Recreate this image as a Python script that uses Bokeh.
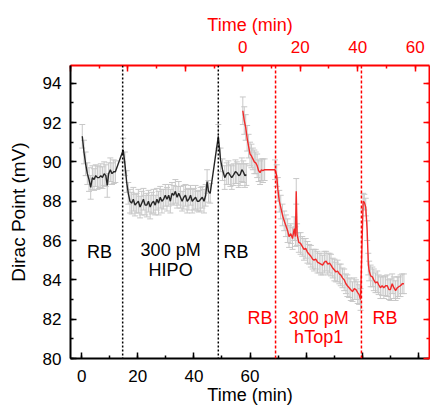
from bokeh.plotting import figure
from bokeh.models import (Range1d, LinearAxis, SingleIntervalTicker, ColumnDataSource,
                          Whisker, TeeHead, Span, Label, CustomJSTickFormatter)
from bokeh.embed import file_html
from bokeh.resources import INLINE

# ---------------- data ----------------
# black series (bottom time axis, min) : HIPO experiment
black_t = [0.2, 0.8, 1.4, 2.0, 2.6, 3.2, 3.8, 4.4, 5.0, 5.6, 6.2, 6.8, 7.4, 8.0, 8.6, 9.1, 9.6, 10.2,
           10.8, 11.4, 12.0, 14.8,
           15.4, 16.0, 16.6, 17.2, 17.8, 18.4, 19.0, 19.6, 20.2, 20.8, 21.4, 22.0, 22.6, 23.2, 23.8,
           24.4, 25.0, 25.6, 26.2, 26.8, 27.4, 28.0, 28.6, 29.2, 29.8, 30.4, 31.0, 31.6, 32.2, 32.8,
           33.4, 34.0, 34.6, 35.2, 35.8, 36.4, 37.0, 37.6, 38.2, 38.8, 39.4, 40.0, 40.6, 41.2, 41.8,
           42.4, 43.0, 43.6, 44.2, 44.7, 45.2, 45.8, 48.7,
           49.5, 50.2, 51.0, 51.7, 52.3, 53.0, 53.5, 54.2, 54.8, 55.3, 56.0, 56.5, 57.1, 57.6, 58.2, 58.7]
black_v = [91.3, 90.5, 89.9, 89.4, 89.1, 88.7, 89.2, 89.1, 89.3, 89.2, 89.2, 89.3, 89.2, 89.4, 89.3,
           88.8, 89.4, 89.6, 89.4, 89.5, 89.5, 90.6,
           89.9, 89.0, 88.4, 88.0, 87.9, 88.1, 87.8, 87.9, 88.0, 87.7, 87.9, 88.1, 87.8, 87.8, 88.0,
           87.7, 87.9, 88.0, 87.8, 88.1, 87.9, 88.2, 88.0, 88.1, 88.3, 88.1, 88.3, 88.0, 88.4, 88.3,
           88.5, 88.2, 88.4, 88.2, 88.0, 88.2, 88.3, 88.0, 88.1, 88.3, 88.0, 88.1, 88.2, 88.0, 88.0,
           88.1, 88.2, 88.0, 88.3, 89.0, 88.5, 88.4, 91.3,
           90.1, 89.6, 89.2, 89.4, 89.45, 89.3, 89.2, 89.35, 89.5, 89.45, 89.3, 89.35, 89.6, 89.5,
           89.3, 89.35]
black_err = [0.6, 0.6, 0.6, 0.55, 0.6, 0.6, 0.6, 0.55, 0.55, 0.6, 0.55, 0.6, 0.55, 0.6, 0.55, 0.6,
             0.55, 0.6, 0.55, 0.6, 0.55, 0.6,
             0.6, 0.55, 0.55, 0.6, 0.55, 0.6, 0.55, 0.5, 0.6, 0.55, 0.6, 0.55, 0.5, 0.6, 0.55,
             0.6, 0.55, 0.6, 0.5, 0.55, 0.6, 0.55, 0.6, 0.5, 0.55, 0.6, 0.55, 0.6, 0.55, 0.5,
             0.6, 0.55, 0.6, 0.55, 0.5, 0.6, 0.55, 0.6, 0.55, 0.5, 0.6, 0.55, 0.6, 0.5, 0.55,
             0.6, 0.55, 0.6, 0.55, 0.6, 0.55, 0.5, 0.6,
             0.6, 0.55, 0.6, 0.55, 0.6, 0.55, 0.6, 0.55, 0.6, 0.55, 0.6, 0.55, 0.6, 0.55, 0.6, 0.55]

# red series (top time axis, min) : hTop1 experiment
red_t = [0.0, 0.5, 1.0, 1.5, 2.0, 2.5, 3.0, 3.5, 4.0, 4.5, 5.0, 5.5, 6.0, 6.5, 7.0, 7.6, 11.2,
         11.8, 12.2, 12.7, 13.2, 13.8, 14.4, 15.0, 15.6, 16.1, 16.7, 17.3, 17.9, 18.3, 18.6, 18.9,
         19.5, 20.1, 20.7, 21.3, 21.9, 22.5, 23.1, 23.7, 24.3, 24.8, 25.4, 26.0, 26.6, 27.2, 27.8,
         28.4, 29.0, 29.6, 30.2, 30.7, 31.3, 31.9, 32.4, 33.0, 33.6, 34.1, 34.7, 35.3, 35.9, 36.4,
         37.0, 37.6, 38.2, 38.8, 39.4, 40.0, 40.5, 41.0, 41.9, 42.3, 42.8, 43.3, 43.7, 44.0, 44.5,
         45.1, 45.6, 46.2, 46.8, 47.3, 47.9, 48.5, 49.1, 49.7, 50.3, 50.9, 51.4, 52.0, 52.6, 53.2,
         53.8, 54.3, 54.9, 55.5, 56.1]
red_v = [92.6, 92.1, 91.75, 91.2, 90.8, 90.4, 90.3, 90.15, 90.0, 89.95, 89.8, 89.55, 89.45, 89.6,
         89.55, 89.6, 89.6,
         89.3, 88.6, 88.0, 87.7, 87.3, 87.0, 86.75, 86.5, 86.2, 86.35, 86.1, 86.6, 86.2, 88.5, 86.3,
         85.9, 85.85, 85.7, 85.55, 85.6, 85.4, 85.3, 85.2, 85.05, 85.0, 85.05, 84.9, 84.85, 84.8,
         84.75, 84.9, 84.95, 84.8, 84.85, 84.75, 84.6, 84.5, 84.4, 84.45, 84.3, 84.25, 84.1, 84.0,
         83.8, 83.7, 83.6, 83.5, 83.4, 83.55, 83.5, 83.35, 83.25, 83.0, 88.0, 87.95, 87.7, 86.5,
         84.8, 84.45, 84.2, 84.15, 84.0, 83.85, 83.9, 83.75, 83.6, 83.7, 83.6, 83.7, 83.7, 83.5,
         83.5, 83.8, 83.6, 83.45, 83.6, 83.65, 83.7, 83.8, 83.8]
red_err = [0.7, 0.7, 0.65, 0.65, 0.6, 0.6, 0.6, 0.55, 0.6, 0.55, 0.6, 0.55, 0.6, 0.55, 0.6, 0.55, 0.5,
           0.55, 0.6, 0.55, 0.6, 0.55, 0.5, 0.55, 0.6, 0.55, 0.5, 0.55, 0.6, 0.5, 0.65, 0.55,
           0.5, 0.55, 0.5, 0.55, 0.5, 0.55, 0.5, 0.55, 0.5, 0.55, 0.5, 0.55, 0.5, 0.55,
           0.5, 0.55, 0.5, 0.55, 0.5, 0.55, 0.5, 0.55, 0.5, 0.55, 0.5, 0.55, 0.5, 0.55,
           0.5, 0.55, 0.5, 0.55, 0.5, 0.55, 0.5, 0.55, 0.5, 0.55, 0.4, 0.4, 0.45, 0.5,
           0.55, 0.5, 0.55, 0.5, 0.55, 0.5, 0.55, 0.5, 0.55, 0.5, 0.55, 0.5, 0.55, 0.5,
           0.55, 0.5, 0.55, 0.5, 0.55, 0.5, 0.55, 0.5, 0.5]

black_events = [14.6, 48.7]     # bottom axis (min)
red_events = [11.4, 41.3]       # top axis (min)

x_bottom_labels_hidden = [80, 100, 120]
x_top_labels_hidden = [-60, -40, -20]

FONT = "Liberation Sans"
RED = "#ff0000"

# ---------------- figure ----------------
p = figure(width=430, height=408, output_backend="svg", toolbar_location=None,
           x_range=Range1d(-4, 124), y_range=Range1d(80, 94.9),
           x_axis_location=None, y_axis_location=None,
           min_border_left=70, min_border_right=1, min_border_top=65, min_border_bottom=50)
p.extra_x_ranges = {"top": Range1d(-60, 65)}
p.outline_line_color = None
p.background_fill_color = "white"
p.border_fill_color = "white"
p.xgrid.visible = False
p.ygrid.visible = False


def style(ax, color, label_size="17px"):
    ax.axis_line_color = color
    ax.axis_line_width = 2
    ax.major_tick_line_color = color
    ax.minor_tick_line_color = color
    ax.major_tick_line_width = 1.5
    ax.minor_tick_line_width = 1.5
    ax.major_tick_in = 6
    ax.major_tick_out = 0
    ax.minor_tick_in = 3
    ax.minor_tick_out = 0
    ax.major_label_text_color = color
    ax.major_label_text_font = FONT
    ax.major_label_text_font_size = label_size
    ax.axis_label_text_color = color
    ax.axis_label_text_font = FONT
    ax.axis_label_text_font_style = "normal"


xb = LinearAxis(ticker=SingleIntervalTicker(interval=20, num_minor_ticks=2), axis_label="Time (min)")
style(xb, "black")
xb.axis_label_text_font_size = "18px"
xb.major_label_standoff = 11
xb.axis_label_standoff = 0
xb.major_label_overrides = {v: "" for v in x_bottom_labels_hidden}
p.add_layout(xb, "below")

xt = LinearAxis(x_range_name="top", ticker=SingleIntervalTicker(interval=20, num_minor_ticks=2),
                axis_label="Time (min)")
style(xt, RED)
xt.axis_label_text_font_size = "18px"
xt.major_label_standoff = 13
xt.axis_label_standoff = 3
xt.major_label_overrides = {v: "" for v in x_top_labels_hidden}
p.add_layout(xt, "above")

yl = LinearAxis(ticker=SingleIntervalTicker(interval=2, num_minor_ticks=2), axis_label="Dirac Point (mV)")
style(yl, "black")
yl.axis_label_text_font_size = "19px"
yl.major_label_standoff = 9
yl.axis_label_standoff = 11
p.add_layout(yl, "left")

yr = LinearAxis(ticker=SingleIntervalTicker(interval=2, num_minor_ticks=2),
                formatter=CustomJSTickFormatter(code="return '';"))
style(yr, RED, label_size="0px")
yr.major_label_standoff = 0
p.add_layout(yr, "right")

# ---------------- data sources ----------------
src_b = ColumnDataSource(dict(t=black_t, v=black_v,
                              hi=[v + e for v, e in zip(black_v, black_err)],
                              lo=[v - e for v, e in zip(black_v, black_err)]))
src_r = ColumnDataSource(dict(t=red_t, v=red_v,
                              hi=[v + e for v, e in zip(red_v, red_err)],
                              lo=[v - e for v, e in zip(red_v, red_err)]))

EB = "#c8c8c8"
for src, rng in ((src_b, "default"), (src_r, "top")):
    w = Whisker(source=src, base="t", upper="hi", lower="lo", dimension="height",
                line_color=EB, line_width=1, level="underlay", x_range_name=rng,
                upper_head=TeeHead(size=6, line_color=EB, line_width=1),
                lower_head=TeeHead(size=6, line_color=EB, line_width=1))
    p.add_layout(w)

p.line("t", "v", source=src_b, line_color="#262626", line_width=1.4)
p.line("t", "v", source=src_r, line_color="#f22a2a", line_width=1.4, x_range_name="top")

for t in black_events:
    p.add_layout(Span(location=t, dimension="height", line_color="black",
                      line_dash="2 2", line_width=1.5))
for t in red_events:
    p.add_layout(Span(location=t, dimension="height", line_color=RED,
                      line_dash="3 2", line_width=1.5, x_range_name="top"))

labels = [
    ("RB", 6.3, 85.4, "default", "black"),
    ("300 pM", 31.7, 85.5, "default", "black"),
    ("HIPO", 31.7, 84.5, "default", "black"),
    ("RB", 55.0, 85.4, "default", "black"),
    ("RB", 6.0, 82.07, "top", RED),
    ("300 pM", 26.4, 82.07, "top", RED),
    ("hTop1", 26.4, 81.1, "top", RED),
    ("RB", 49.5, 82.07, "top", RED),
]
for txt, x, y, rng, col in labels:
    p.add_layout(Label(x=x, y=y, text=txt, x_range_name=rng, text_align="center",
                       text_baseline="middle", text_font=FONT, text_font_size="18px",
                       text_color=col))

open("out.html", "w").write(file_html(p, INLINE))
